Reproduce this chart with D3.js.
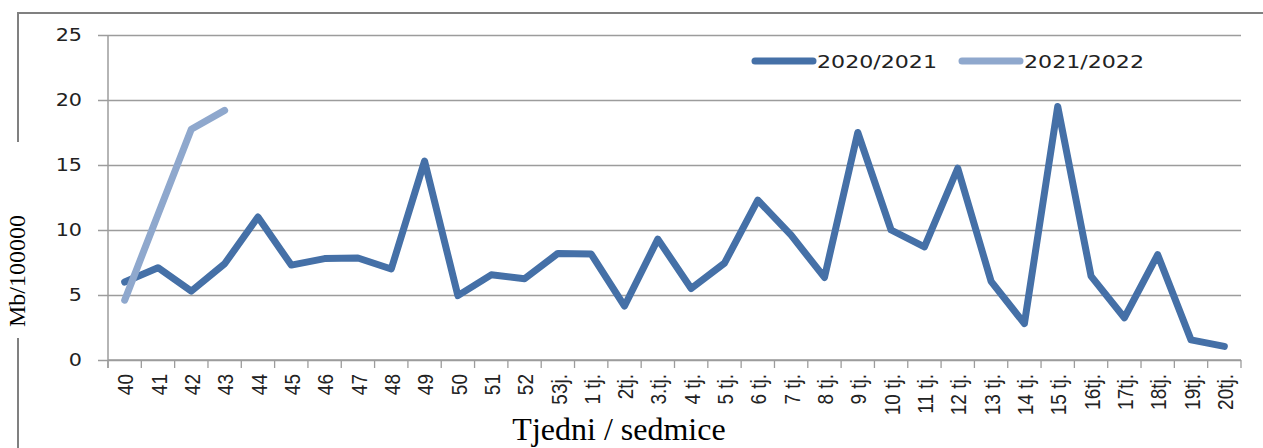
<!DOCTYPE html>
<html>
<head>
<meta charset="utf-8">
<script src="https://cdn.jsdelivr.net/npm/d3@7/dist/d3.min.js"></script>
<style>
  html, body { margin: 0; padding: 0; background: #fff; }
  svg { display: block; }
</style>
</head>
<body>
<svg id="chart" width="1263" height="448"></svg>
<script>
const categories = ["40","41","42","43","44","45","46","47","48","49","50","51","52","53j.",
  "1 tj.","2tj.","3.tj.","4 tj.","5 tj.","6 tj.","7 tj.","8 tj.","9 tj.","10 tj.","11 tj.",
  "12 tj.","13 tj.","14 tj.","15 tj.","16tj.","17tj.","18tj.","19tj.","20tj."];
const series2020 = [6.0,7.1,5.3,7.4,11.0,7.3,7.8,7.85,7.0,15.3,4.95,6.55,6.25,8.2,
  8.15,4.15,9.3,5.5,7.45,12.3,9.6,6.35,17.5,10.0,8.7,14.75,6.05,2.8,19.5,6.45,3.25,8.1,1.55,1.05];
const series2021 = [4.6,11.2,17.75,19.2];
const yTicks = [0,5,10,15,20,25];
const seriesNames = ["2020/2021","2021/2022"];
const seriesColors = ["#4570a7","#8fa8cd"];

const svg = d3.select("#chart");
const L = 108, R = 1241, T = 35, B = 360;
const x = d3.scaleBand().domain(categories).range([L, R]).padding(0);
const y = d3.scaleLinear().domain([0, 25]).range([B, T]);
const gridColor = "#9c9c9c";

// outer chart border (partially hidden behind axis title)
svg.append("line").attr("x1", 17).attr("x2", 1263).attr("y1", 13).attr("y2", 13)
  .attr("stroke", "#808080").attr("stroke-width", 2);
svg.append("line").attr("x1", 18).attr("x2", 18).attr("y1", 12).attr("y2", 142)
  .attr("stroke", "#808080").attr("stroke-width", 2);
svg.append("line").attr("x1", 18).attr("x2", 18).attr("y1", 338).attr("y2", 448)
  .attr("stroke", "#808080").attr("stroke-width", 2);

// gridlines + left ticks
const grid = svg.append("g").attr("transform", `translate(${R},0)`)
  .call(d3.axisLeft(y).tickValues(yTicks).tickSize(R - L + 10).tickFormat(""));
grid.select(".domain").remove();
grid.selectAll(".tick line").attr("stroke", gridColor).attr("stroke-width", 1.3);

// y labels
const yl = svg.append("g").attr("transform", `translate(${L},0)`)
  .call(d3.axisLeft(y).tickValues(yTicks).tickSize(0).tickPadding(0));
yl.select(".domain").remove();
const SY = 1.15;
yl.selectAll(".tick text")
  .attr("x", -26 / SY)
  .attr("transform", `scale(${SY},1)`)
  .attr("font-family", "DejaVu Sans")
  .attr("font-size", 18)
  .attr("fill", "#222");

// y axis line
svg.append("line").attr("x1", L).attr("x2", L).attr("y1", y(25)).attr("y2", B + 8)
  .attr("stroke", gridColor).attr("stroke-width", 1.5);

// x axis line and boundary ticks
svg.append("line").attr("x1", L).attr("x2", R).attr("y1", B).attr("y2", B)
  .attr("stroke", gridColor).attr("stroke-width", 1.5);
const bounds = categories.map(c => x(c)).concat([x.range()[1]]);
svg.append("g").selectAll("line").data(bounds).join("line")
  .attr("x1", d => d).attr("x2", d => d).attr("y1", B).attr("y2", B + 8)
  .attr("stroke", gridColor).attr("stroke-width", 1.3);

// x labels (rotated)
const SX = 1.15;
svg.append("g").selectAll("text").data(categories).join("text")
  .attr("transform", d => `translate(${x(d) + x.bandwidth() / 2 + 1},374) scale(${SX},1) rotate(-90)`)
  .attr("text-anchor", "end")
  .attr("dy", "0.35em")
  .attr("font-family", "Liberation Sans")
  .attr("font-size", 19)
  .attr("fill", "#222")
  .text(d => d);

// lines
const line = d3.line()
  .x((d, i) => x(categories[i]) + x.bandwidth() / 2)
  .y(d => y(d));
[series2020, series2021].forEach((s, k) => {
  svg.append("path").datum(s)
    .attr("d", line)
    .attr("fill", "none")
    .attr("stroke", seriesColors[k])
    .attr("stroke-width", 7)
    .attr("stroke-linejoin", "round")
    .attr("stroke-linecap", "round");
});

// legend
const legendPos = [755, 962];
seriesNames.forEach((n, k) => {
  const lx = legendPos[k];
  svg.append("line").attr("x1", lx).attr("x2", lx + 58).attr("y1", 61).attr("y2", 61)
    .attr("stroke", seriesColors[k]).attr("stroke-width", 7).attr("stroke-linecap", "round");
  svg.append("text").attr("x", lx + 62).attr("y", 67.5)
    .attr("font-family", "DejaVu Sans").attr("font-size", 18.5)
    .attr("textLength", 120).attr("lengthAdjust", "spacingAndGlyphs")
    .attr("fill", "#222").text(n);
});

// axis titles
svg.append("text").attr("x", 619).attr("y", 440).attr("text-anchor", "middle")
  .attr("font-family", "Liberation Serif").attr("font-size", 32).attr("fill", "#000")
  .text("Tjedni / sedmice");
svg.append("text").attr("transform", "translate(25,271) rotate(-90)")
  .attr("text-anchor", "middle")
  .attr("font-family", "Liberation Serif").attr("font-size", 24).attr("fill", "#000")
  .text("Mb/100000");
</script>
</body>
</html>
